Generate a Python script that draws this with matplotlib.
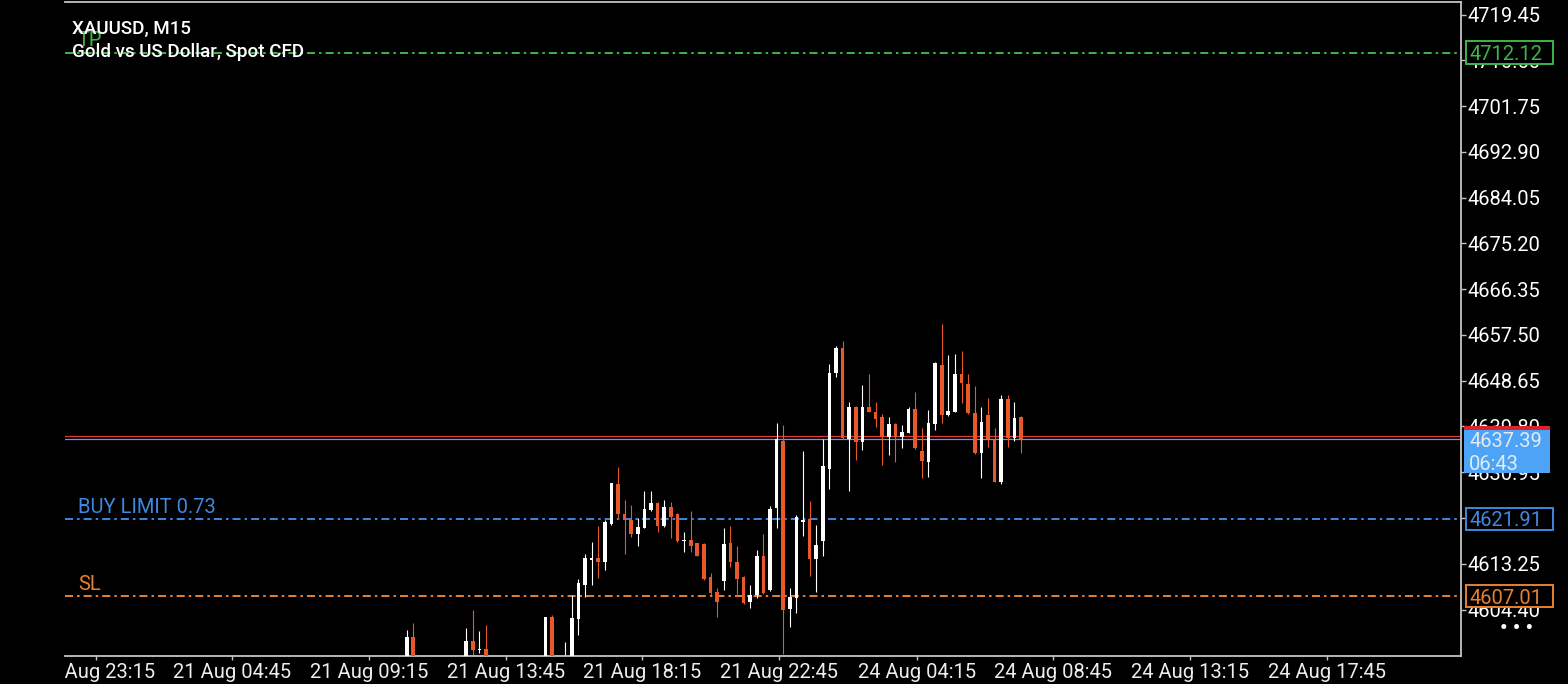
import matplotlib
matplotlib.use('Agg')
import matplotlib.pyplot as plt
import numpy as np
from matplotlib.transforms import blended_transform_factory, Bbox, TransformedBbox
from matplotlib.patches import Rectangle

plt.rcParams['font.family'] = ['Roboto', 'DejaVu Sans']
plt.rcParams['lines.scale_dashes'] = False

# ---------------- data ----------------
symbol_title = "XAUUSD, M15"
symbol_desc = "Gold vs US Dollar, Spot CFD"

bar_idx = [0, 1, 9, 10, 11, 12, 21, 22, 24, 25, 26, 27, 28, 29, 30, 31, 32, 33, 34, 35,
           36, 37, 38, 39, 40, 41, 42, 43, 44, 45, 46, 47, 48, 49, 50, 51, 52, 53, 54, 55,
           56, 57, 58, 59, 60, 61, 62, 63, 64, 65, 66, 67, 68, 69, 70, 71, 72, 73, 74, 75,
           76, 77, 78, 79, 80, 81, 82, 83, 84, 85, 86, 87, 88, 89, 90, 91, 92, 93]
opens = [4593.50, 4599.02, 4594.50, 4598.31, 4596.55, 4596.76, 4593.00, 4602.89, 4593.00, 4594.00,
         4602.56, 4609.14, 4613.97, 4614.30, 4613.64, 4620.93, 4628.67, 4622.81, 4621.71, 4619.00,
         4620.22, 4623.64, 4624.94, 4620.55, 4624.28, 4622.87, 4617.65, 4617.94, 4617.20, 4617.13,
         4610.74, 4607.84, 4609.97, 4617.20, 4613.59, 4610.74, 4605.91, 4607.20, 4614.75, 4608.17,
         4623.97, 4637.03, 4604.44, 4606.72, 4621.38, 4621.81, 4614.11, 4617.71, 4631.51, 4650.08,
         4654.91, 4637.32, 4643.50, 4636.85, 4643.50, 4642.65, 4641.57, 4637.82, 4640.27, 4637.82,
         4638.63, 4643.23, 4635.09, 4632.98, 4640.27, 4651.69, 4642.02, 4642.65, 4649.91, 4647.97,
         4642.34, 4634.61, 4642.02, 4637.24, 4629.06, 4645.07, 4637.66, 4641.63]
highs = [4600.43, 4601.85, 4600.82, 4604.30, 4600.30, 4601.40, 4602.95, 4603.34, 4598.11, 4607.20,
         4610.30, 4615.07, 4617.40, 4620.61, 4621.71, 4628.92, 4631.90, 4625.58, 4624.61, 4622.15,
         4627.32, 4627.32, 4625.25, 4625.67, 4625.25, 4623.06, 4619.48, 4623.39, 4617.32, 4617.32,
         4611.52, 4608.50, 4620.16, 4620.49, 4616.68, 4610.97, 4609.14, 4615.91, 4619.00, 4624.36,
         4640.47, 4640.08, 4608.50, 4622.77, 4634.99, 4625.38, 4620.74, 4637.32, 4651.88, 4655.36,
         4656.39, 4644.59, 4643.76, 4647.82, 4649.94, 4644.59, 4642.21, 4641.69, 4640.53, 4640.18,
         4643.50, 4646.46, 4639.44, 4642.98, 4652.27, 4659.58, 4653.56, 4653.77, 4654.49, 4649.91,
         4647.62, 4643.56, 4645.25, 4639.44, 4645.79, 4645.88, 4644.53, 4641.86]
lows = [4592.00, 4592.50, 4593.00, 4594.80, 4595.99, 4592.50, 4592.00, 4592.80, 4592.50, 4593.50,
        4599.47, 4606.87, 4609.14, 4610.43, 4612.04, 4620.80, 4622.04, 4615.07, 4618.48, 4616.74,
        4620.10, 4623.50, 4619.33, 4620.45, 4618.17, 4617.55, 4615.58, 4615.52, 4614.75, 4610.10,
        4607.20, 4603.01, 4608.25, 4612.68, 4607.40, 4605.55, 4604.63, 4606.57, 4607.45, 4608.05,
        4620.10, 4595.79, 4601.07, 4603.66, 4618.71, 4610.92, 4607.84, 4614.75, 4627.65, 4649.31,
        4637.40, 4627.38, 4633.31, 4635.25, 4642.55, 4639.75, 4632.35, 4634.28, 4632.93, 4635.63,
        4638.50, 4635.50, 4629.77, 4630.08, 4639.11, 4640.56, 4641.90, 4642.55, 4644.28, 4642.25,
        4634.50, 4629.93, 4635.88, 4629.05, 4628.71, 4635.83, 4636.99, 4634.76]
closes = [4599.02, 4594.00, 4598.31, 4596.57, 4596.80, 4593.50, 4602.89, 4593.50, 4594.80, 4602.70,
          4609.47, 4614.30, 4614.36, 4613.53, 4621.38, 4628.81, 4622.81, 4621.71, 4618.94, 4620.41,
          4623.84, 4624.94, 4620.55, 4624.28, 4622.29, 4617.65, 4617.94, 4616.68, 4614.84, 4610.24,
          4607.53, 4605.85, 4617.03, 4613.64, 4610.34, 4605.66, 4607.20, 4614.75, 4607.59, 4623.78,
          4637.37, 4604.36, 4606.91, 4622.29, 4621.71, 4614.13, 4616.87, 4632.15, 4650.20, 4655.07,
          4637.51, 4643.50, 4636.85, 4643.62, 4642.65, 4641.18, 4637.82, 4640.27, 4637.82, 4638.79,
          4643.23, 4635.63, 4633.16, 4640.47, 4652.07, 4642.02, 4642.79, 4649.91, 4648.15, 4642.34,
          4634.61, 4640.66, 4637.34, 4629.15, 4645.07, 4637.66, 4641.53, 4637.39]

tp_price = 4712.12
buy_limit_price = 4621.91
buy_limit_label = "BUY LIMIT 0.73"
sl_price = 4607.01
bid_price = 4637.39
ask_price = 4637.89
countdown = "06:43"

price_ticks = [4719.45, 4710.60, 4701.75, 4692.90, 4684.05, 4675.20, 4666.35,
               4657.50, 4648.65, 4639.80, 4630.95, 4622.10, 4613.25, 4604.40]
time_tick_pos = [-47.1, -26.4, -5.7, 15.0, 35.7, 56.4, 77.2, 97.9, 118.6, 139.3]
time_tick_labels = ["20 Aug 23:15", "21 Aug 04:45", "21 Aug 09:15", "21 Aug 13:45",
                    "21 Aug 18:15", "21 Aug 22:45", "24 Aug 04:15", "24 Aug 08:45",
                    "24 Aug 13:15", "24 Aug 17:45"]

# ---------------- style ----------------
BULL = '#FFFFFF'
BEAR = '#E8582A'
GREEN = '#3DB54A'
BLUE = '#3F88E0'
ORANGE = '#E8812E'
SPINE = '#C4C4C4'
DASHDOT = (0, (5.8, 2.9, 1.8, 2.9))
FS = 14.5

W, H = 1568, 684
fig = plt.figure(figsize=(W / 100, H / 100), dpi=100, facecolor='black')
ax = fig.add_axes([65 / W, 28 / H, 1396 / W, 654 / H])
ax.set_facecolor('black')
ax.set_xlim(-51.73, 159.62)
ax.set_ylim(4595.41, 4721.89)

x = np.array(bar_idx, dtype=float)
o = np.array(opens); h = np.array(highs); l = np.array(lows); c = np.array(closes)
up = c >= o
cols = np.where(up, BULL, BEAR)
ax.vlines(x, l, h, colors=cols, lw=0.8, zorder=2)
ax.bar(x, np.maximum(np.abs(c - o), 0.15), bottom=np.minimum(o, c), width=0.55,
       color=cols, lw=0, zorder=3)

# level lines
ax.axhline(tp_price, color=GREEN, lw=1.4, ls=DASHDOT, zorder=1.5)
ax.axhline(buy_limit_price, color=BLUE, lw=1.4, ls=DASHDOT, zorder=1.5)
ax.axhline(sl_price, color=ORANGE, lw=1.4, ls=DASHDOT, zorder=1.5)
ax.axhline(ask_price, color='#E03A32', lw=0.9, zorder=1.6)
ax.axhline(bid_price, color='#7C8EE8', lw=0.9, zorder=1.6)

blend = blended_transform_factory(ax.transAxes, ax.transData)
for price, txt, col in [(tp_price, 'TP', GREEN), (buy_limit_price, buy_limit_label, BLUE),
                        (sl_price, 'SL', ORANGE)]:
    ax.annotate(txt, xy=(0.0093, price), xycoords=blend, xytext=(0, 4.5),
                textcoords='offset points', color=col, fontsize=FS,
                va='baseline', ha='left', zorder=4)

# title
ax.text(0.005, 0.9511, symbol_title, transform=ax.transAxes, color='white',
        fontsize=13.5, fontweight='medium', va='baseline', ha='left', zorder=6)
ax.text(0.005, 0.9159, symbol_desc, transform=ax.transAxes, color='white',
        fontsize=13.5, fontweight='medium', va='baseline', ha='left', zorder=6)

# axes styling
for s in ['top', 'right', 'bottom']:
    ax.spines[s].set_color(SPINE)
    ax.spines[s].set_linewidth(1.3)
ax.spines['left'].set_visible(False)

ax.yaxis.tick_right()
ax.set_yticks(price_ticks)
ax.set_yticklabels([f'{v:.2f}' for v in price_ticks])
ax.tick_params(axis='y', colors=SPINE, labelcolor='white', labelsize=FS,
               length=3.5, width=1, pad=1.2, direction='out')
ax.set_xticks(time_tick_pos)
ax.set_xticklabels(time_tick_labels)
ax.tick_params(axis='x', colors=SPINE, labelcolor='#EDEDED', labelsize=FS,
               length=3, width=1, pad=2.0, direction='out')
clip_bb = TransformedBbox(Bbox([[65 / W, 0], [1, 1]]), fig.transFigure)
first = ax.get_xticklabels()[0]
first.set_clip_on(True)
first.set_clip_box(clip_bb)

# right-side price boxes
box_x0 = (1466 - 65) / 1396
box_w = 87 / 1396
txt_x = (1469 - 65) / 1396
half_h = 2.17
for price, col in [(tp_price, GREEN), (buy_limit_price, BLUE), (sl_price, ORANGE)]:
    ax.add_patch(Rectangle((box_x0, price - half_h), box_w, 2 * half_h, transform=blend,
                           facecolor='black', edgecolor=col, lw=1.4, clip_on=False, zorder=10))
    ax.text(txt_x, price, f'{price:.2f}', transform=blend, color=col, fontsize=FS,
            va='center_baseline', ha='left', clip_on=False, zorder=11)

# current price box
cp_x0 = (1464 - 65) / 1396
cp_w = 86 / 1396
ax.add_patch(Rectangle((cp_x0, bid_price - 6.59), cp_w, 8.89, transform=blend,
                       facecolor='#4DA3F5', edgecolor='none', clip_on=False, zorder=10))
ax.add_patch(Rectangle((cp_x0, bid_price + 1.81), cp_w, 0.68, transform=blend,
                       facecolor='#E0222A', edgecolor='none', clip_on=False, zorder=10.5))
ax.text(txt_x, bid_price - 0.2, f'{bid_price:.2f}', transform=blend, color='#E2EAF4',
        fontsize=FS, va='center_baseline', ha='left', clip_on=False, zorder=11)
ax.text(txt_x, bid_price - 4.65, countdown, transform=blend, color='#E2EAF4',
        fontsize=FS, va='center_baseline', ha='left', clip_on=False, zorder=11)

# menu dots
ax.text(1.0394, 0.0413, '\u2022 \u2022 \u2022', transform=ax.transAxes, color='white',
        fontsize=15, fontweight='bold', va='center', ha='center', clip_on=False, zorder=11)

fig.savefig('out.png', dpi=100, facecolor='black')
